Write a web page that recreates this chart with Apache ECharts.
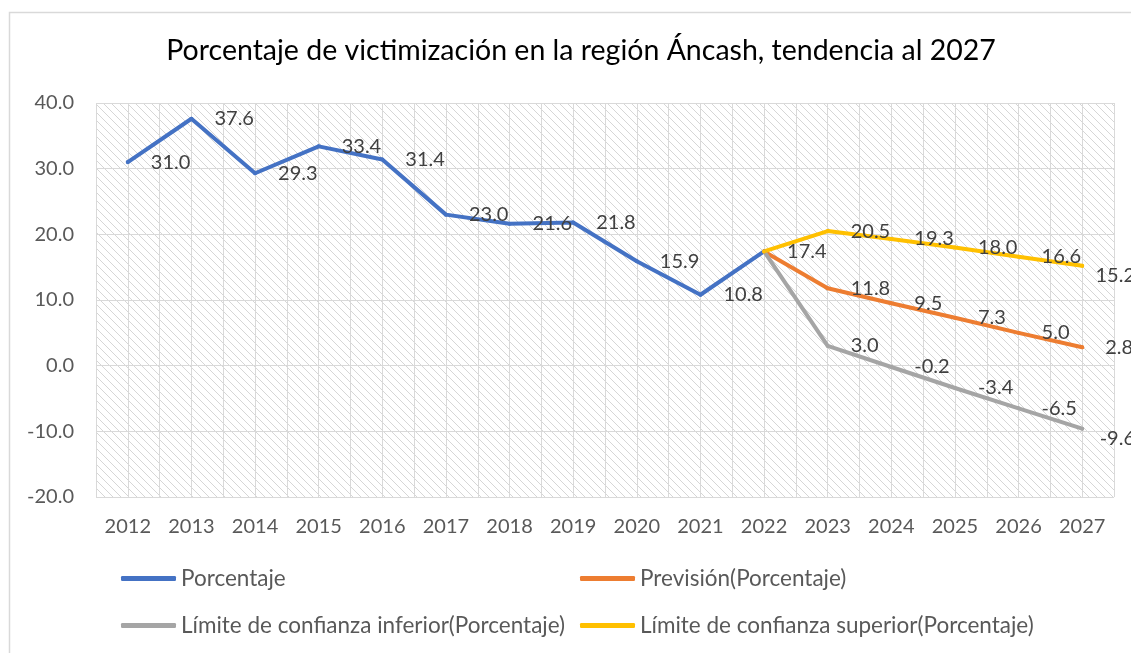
<!DOCTYPE html>
<html>
<head>
<meta charset="utf-8">
<script src="https://cdn.jsdelivr.net/npm/echarts@6/dist/echarts.min.js"></script>
<style>
  html, body { margin: 0; padding: 0; background: #fff; }
  #chart { width: 1131px; height: 653px; }
</style>
</head>
<body>
<div id="chart"></div>
<script>
const years = ['2012', '2013', '2014', '2015', '2016', '2017', '2018', '2019',
  '2020', '2021', '2022', '2023', '2024', '2025', '2026', '2027']

// actual values 2012-2022
const porcentaje = [31.0, 37.6, 29.3, 33.4, 31.4, 23.0, 21.6, 21.8, 15.9, 10.8, 17.4]
// forecast 2022-2027 (2022 is the join point)
const prevision = [17.4, 11.8, 9.5, 7.3, 5.0, 2.8]
const limiteInferior = [17.4, 3.0, -0.2, -3.4, -6.5, -9.6]
const limiteSuperior = [17.4, 20.5, 19.3, 18.0, 16.6, 15.2]

const yTicks = { min: -20, max: 40, interval: 10 }

const FONT = 'Lato, "Open Sans", sans-serif'
const COLORS = {
  porcentaje: '#4472c4',
  prevision: '#ed7d31',
  inferior: '#a5a5a5',
  superior: '#ffc000',
}

// hatched plot background like the Excel pattern fill
function hatchPattern() {
  const c = document.createElement('canvas')
  c.width = 8
  c.height = 8
  const ctx = c.getContext('2d')
  ctx.fillStyle = '#ffffff'
  ctx.fillRect(0, 0, 8, 8)
  ctx.strokeStyle = '#d6d6d6'
  ctx.lineWidth = 1
  ctx.beginPath()
  ctx.moveTo(-1, -1)
  ctx.lineTo(9, 9)
  ctx.moveTo(-1, 7)
  ctx.lineTo(1, 9)
  ctx.moveTo(7, -1)
  ctx.lineTo(9, 1)
  ctx.stroke()
  return { image: c, repeat: 'repeat' }
}

// forecast series start at 2022, pad the earlier years and hide the join label
function forecastData(values) {
  const pad = years.length - values.length
  return years.map((_, i) => {
    if (i < pad) return '-'
    const v = values[i - pad]
    return i === pad ? { value: v, label: { show: false } } : v
  })
}

const labelStyle = {
  show: true,
  position: 'right',
  distance: 21,
  fontFamily: FONT,
  fontSize: 20,
  color: '#404040',
  formatter: (p) => Number(p.value).toFixed(1),
}

// Excel pulls labels back in when they run past the chart edge
const CHART_EDGE = 1135
function keepInside(params) {
  const r = params.labelRect
  if (r.x + r.width > CHART_EDGE) return { x: CHART_EDGE - r.width }
  return {}
}

function lineSeries(name, data, color) {
  return {
    name,
    type: 'line',
    xAxisIndex: 0,
    data,
    symbol: 'circle',
    symbolSize: 4,
    itemStyle: { color },
    lineStyle: { color, width: 4, join: 'round', cap: 'round' },
    label: labelStyle,
    labelLayout: keepInside,
    emphasis: { disabled: true },
    animation: false,
  }
}

const legendText = { fontFamily: FONT, fontSize: 22.5, color: '#595959' }
function legendAt(name, left, top) {
  return {
    data: [name],
    left,
    top,
    padding: 0,
    icon: 'roundRect',
    itemWidth: 55,
    itemHeight: 5,
    textStyle: legendText,
    selectedMode: false,
  }
}

const chart = echarts.init(document.getElementById('chart'))

chart.setOption({
  animation: false,
  title: {
    text: 'Porcentaje de victimización en la región Áncash, tendencia al 2027',
    left: 576,
    top: 31,
    textAlign: 'center',
    textStyle: { fontFamily: FONT, fontSize: 28.5, fontWeight: 'normal', color: '#000000' },
  },
  graphic: [{
    type: 'rect',
    left: 7,
    top: 10,
    shape: { width: 1135, height: 660 },
    style: { fill: 'none', stroke: '#d9d9d9', lineWidth: 1.5 },
    silent: true,
  }],
  legend: [
    legendAt('Porcentaje', 121, 567),
    legendAt('Previsión(Porcentaje)', 580, 567),
    legendAt('Límite de confianza inferior(Porcentaje)', 121, 614),
    legendAt('Límite de confianza superior(Porcentaje)', 580, 614),
  ],
  grid: {
    left: 96,
    right: 17,
    top: 103,
    bottom: 156,
    show: true,
    borderWidth: 0,
    backgroundColor: hatchPattern(),
  },
  xAxis: [{
    type: 'category',
    data: years,
    boundaryGap: true,
    axisLine: { show: false },
    axisTick: { show: false },
    axisLabel: { fontFamily: FONT, fontSize: 20, color: '#595959', margin: 20, interval: 0 },
    splitLine: { show: false },
  }, {
    // half-category grid: lines at each year and each boundary between years
    type: 'value',
    min: 0,
    max: years.length * 2,
    interval: 1,
    position: 'bottom',
    axisLine: { show: false },
    axisTick: { show: false },
    axisLabel: { show: false },
    splitLine: { show: true, lineStyle: { color: '#d9d9d9', width: 1 } },
  }],
  yAxis: {
    type: 'value',
    min: yTicks.min,
    max: yTicks.max,
    interval: yTicks.interval,
    axisLine: { show: false },
    axisTick: { show: false },
    axisLabel: {
      fontFamily: FONT,
      fontSize: 20,
      color: '#595959',
      margin: 22,
      formatter: (v) => v.toFixed(1),
    },
    splitLine: { lineStyle: { color: '#d9d9d9', width: 1 } },
  },
  series: [
    lineSeries('Porcentaje', porcentaje, COLORS.porcentaje),
    lineSeries('Previsión(Porcentaje)', forecastData(prevision), COLORS.prevision),
    lineSeries('Límite de confianza inferior(Porcentaje)', forecastData(limiteInferior), COLORS.inferior),
    lineSeries('Límite de confianza superior(Porcentaje)', forecastData(limiteSuperior), COLORS.superior),
  ],
})
</script>
</body>
</html>
